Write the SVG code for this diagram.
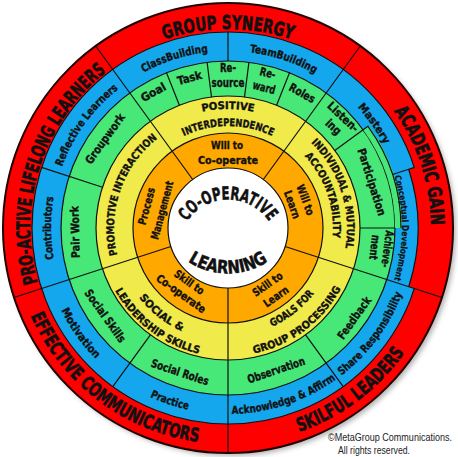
<svg xmlns="http://www.w3.org/2000/svg" xmlns:xlink="http://www.w3.org/1999/xlink" width="458" height="457" viewBox="0 0 458 457">
<style>
text{font-family:'DejaVu Sans Condensed','DejaVu Sans','Liberation Sans',sans-serif;font-weight:bold;fill:#111;stroke:#111;stroke-width:0.35;font-stretch:condensed}
.r{font-size:19px;stroke-width:0.6}
.b{font-size:11px}
.bs{font-size:9px;stroke-width:0.2}
.g{font-size:11.5px}
.y{font-size:10.5px}
.o{font-size:11px}
.c{font-size:18px;stroke-width:0.5}
.m{dominant-baseline:central;text-anchor:middle}
.cp{font-family:'Liberation Sans',Arial,sans-serif;font-weight:normal;font-size:10.5px;fill:#222;stroke:none}
.ln{stroke:#111;stroke-width:1.2;fill:none}
.ring{stroke:#111;stroke-width:1.2}
</style>
<defs>
<filter id="sh" x="-10%" y="-10%" width="120%" height="120%"><feGaussianBlur stdDeviation="2.5"/></filter>
<path id="tp-gs" d="M128.5,55.7 A199,199 0 0 1 327.5,55.7"/>
<path id="tp-ag" d="M335.6,55.9 A203,203 0 0 1 416.2,304.0"/>
<path id="tp-sl" d="M216.7,443.7 A216,216 0 0 0 438.5,276.6"/>
<path id="tp-ec" d="M17.5,276.6 A216,216 0 0 0 239.3,443.7"/>
<path id="tp-pa" d="M44.4,302.2 A198,198 0 0 1 123.1,60.1"/>
<path id="tp-cb" d="M97.5,108.4 A177,177 0 0 1 266.3,55.2"/>
<path id="tp-tb" d="M191.8,54.7 A177,177 0 0 1 360,110"/>
<path id="tp-ma" d="M301.1,66.8 A177,177 0 0 1 404.2,210.7"/>
<path id="tp-cd" d="M378.7,141 A174,174 0 0 1 378.7,315"/>
<path id="tp-sr" d="M302.2,398.6 A186,186 0 0 0 412.8,249.1"/>
<path id="tp-aa" d="M190.3,410.1 A186,186 0 0 0 366.9,351.7"/>
<path id="tp-pr" d="M88.5,351 A186,186 0 0 0 264.8,410.3"/>
<path id="tp-mo" d="M42.9,245.8 A186,186 0 0 0 150.9,397.3"/>
<path id="tp-co" d="M74.7,316.5 A177,177 0 0 1 74.7,139.5"/>
<path id="tp-rl" d="M52,209.5 A177,177 0 0 1 156,66.3"/>
<path id="tp-pos" d="M151.5,136.8 A119,119 0 0 1 304.5,136.8"/>
<path id="tp-int" d="M162.4,149.9 A102,102 0 0 1 293.6,149.9"/>
<path id="tp-ind" d="M291.1,127.1 A119,119 0 0 1 338.3,272.6"/>
<path id="tp-acc" d="M282.1,138 A105,105 0 0 1 326,265.6"/>
<path id="tp-gf" d="M225,336 A108,108 0 0 0 333.8,249.7"/>
<path id="tp-gp" d="M220.6,355.8 A128,128 0 0 0 352.6,257.5"/>
<path id="tp-so" d="M117.5,251.5 A113,113 0 0 0 231.9,340.9"/>
<path id="tp-ls" d="M102.3,257 A129,129 0 0 0 234.8,356.8"/>
<path id="tp-pi" d="M121.6,268.9 A114,114 0 0 1 169.3,130.3"/>
<path id="tp-coop" d="M180.2,236.2 A49.5,49.5 0 0 1 275.8,236.2"/>
<path id="tp-learn" d="M182,256.8 A71.5,71.5 0 0 0 274,256.8"/>
</defs>

<g id="rings">
<circle cx="231" cy="231" r="225" fill="#777" opacity="0.55" filter="url(#sh)"/>
<circle cx="228" cy="228" r="225" fill="#FE0000" stroke="#200" stroke-width="2"/>
<circle class="ring" cx="228" cy="228" r="196" fill="#14A7EE"/>
<path d="M415.4,167.1 A197,197 0 0 1 415.4,288.9 L408.7,286.7 A190,190 0 0 0 408.7,169.3 Z" fill="#FE0000"/>
<path class="ln" d="M414.4,167.4 L408.7,169.3 A190,190 0 0 1 408.7,286.7"/>
<circle class="ring" cx="228" cy="228" r="167" fill="#48E878"/>
<path d="M368.8,125.7 A174,174 0 0 1 402,228 L395,228 A167,167 0 0 0 363.1,129.8 Z" fill="#48E878"/>
<path class="ln" d="M363.1,129.8 L368,126.3 A173,173 0 0 1 401,228"/>
<circle class="ring" cx="228" cy="228" r="132" fill="#F0EA4A"/>
<circle class="ring" cx="228" cy="228" r="95" fill="#FFA800"/>
<circle class="ring" cx="228" cy="228" r="60" fill="#FFFFFF"/>
</g>

<g id="connectors">
<path class="ln" d="M192.7,179.5 L95.7,46 M263.3,179.5 L360.3,46 M285.1,246.5 L442,297.5 M228,288 L228,453 M170.9,246.5 L14,297.5"/>
<path class="ln" d="M228,61 L228,32 M179.4,105.3 L166.5,72.7 M211.5,97 L207.1,62.3 M244.5,97 L248.9,62.3 M276.6,105.3 L289.5,72.7 M334.8,150.4 L363.1,129.8 M392.5,174.5 L408.7,169.3 M360,228 L395,228 M305.6,334.8 L343.2,386.6 M150.4,334.8 L112.8,386.6 M102.5,187.2 L41.6,167.4"/>
</g>

<g id="outer-ring-labels">
<g id="group-synergy"><text class="r"><textPath href="#tp-gs" startOffset="50%" text-anchor="middle" textLength="130" lengthAdjust="spacingAndGlyphs">GROUP SYNERGY</textPath></text></g>
<g id="academic-gain"><text class="r"><textPath href="#tp-ag" startOffset="50%" text-anchor="middle" textLength="122" lengthAdjust="spacingAndGlyphs">ACADEMIC GAIN</textPath></text></g>
<g id="skilful-leaders"><text class="r"><textPath href="#tp-sl" startOffset="50%" text-anchor="middle" textLength="134" lengthAdjust="spacingAndGlyphs">SKILFUL LEADERS</textPath></text></g>
<g id="effective-communicators"><text class="r"><textPath href="#tp-ec" startOffset="50%" text-anchor="middle" textLength="219" lengthAdjust="spacingAndGlyphs">EFFECTIVE COMMUNICATORS</textPath></text></g>
<g id="pro-active"><text class="r"><textPath href="#tp-pa" startOffset="50%" text-anchor="middle" textLength="235" lengthAdjust="spacingAndGlyphs">PRO-ACTIVE LIFELONG LEARNERS</textPath></text></g>
</g>

<g id="blue-ring-labels">
<g id="classbuilding"><text class="b"><textPath href="#tp-cb" startOffset="50%" text-anchor="middle" textLength="68" lengthAdjust="spacingAndGlyphs">ClassBuilding</textPath></text></g>
<g id="teambuilding"><text class="b"><textPath href="#tp-tb" startOffset="50%" text-anchor="middle" textLength="69" lengthAdjust="spacingAndGlyphs">TeamBuilding</textPath></text></g>
<g id="mastery"><text class="b"><textPath href="#tp-ma" startOffset="50%" text-anchor="middle" textLength="46" lengthAdjust="spacingAndGlyphs">Mastery</textPath></text></g>
<g id="conceptual-development"><text class="bs"><textPath href="#tp-cd" startOffset="50%" text-anchor="middle" textLength="105" lengthAdjust="spacingAndGlyphs">Conceptual Development</textPath></text></g>
<g id="share-responsibility"><text class="b"><textPath href="#tp-sr" startOffset="50%" text-anchor="middle" textLength="103" lengthAdjust="spacingAndGlyphs">Share Responsibility</textPath></text></g>
<g id="acknowledge-affirm"><text class="b"><textPath href="#tp-aa" startOffset="50%" text-anchor="middle" textLength="111" lengthAdjust="spacingAndGlyphs">Acknowledge &amp; Affirm</textPath></text></g>
<g id="practice"><text class="b"><textPath href="#tp-pr" startOffset="50%" text-anchor="middle" textLength="40" lengthAdjust="spacingAndGlyphs">Practice</textPath></text></g>
<g id="motivation"><text class="b"><textPath href="#tp-mo" startOffset="50%" text-anchor="middle" textLength="60" lengthAdjust="spacingAndGlyphs">Motivation</textPath></text></g>
<g id="contributors"><text class="b"><textPath href="#tp-co" startOffset="50%" text-anchor="middle" textLength="62" lengthAdjust="spacingAndGlyphs">Contributors</textPath></text></g>
<g id="reflective-learners"><text class="b"><textPath href="#tp-rl" startOffset="50%" text-anchor="middle" textLength="97" lengthAdjust="spacingAndGlyphs">Reflective Learners</textPath></text></g>
</g>

<g id="green-ring-labels">
<g id="goal"><text class="g m" transform="translate(153.3,92.2) rotate(-28.8)" textLength="27" lengthAdjust="spacingAndGlyphs">Goal</text></g>
<g id="task"><text class="g m" transform="translate(189.5,77.9) rotate(-14.4)" textLength="25" lengthAdjust="spacingAndGlyphs">Task</text></g>
<g id="resource"><text class="g m" transform="translate(228,68)" textLength="16" lengthAdjust="spacingAndGlyphs">Re-</text><text class="g m" transform="translate(228,83)" textLength="33" lengthAdjust="spacingAndGlyphs">source</text></g>
<g id="reward"><text class="g m" transform="translate(267.8,73) rotate(14.4)" textLength="16" lengthAdjust="spacingAndGlyphs">Re-</text><text class="g m" transform="translate(264.1,87.6) rotate(14.4)" textLength="23" lengthAdjust="spacingAndGlyphs">ward</text></g>
<g id="roles"><text class="g m" transform="translate(302.2,93.1) rotate(28.8)" textLength="28" lengthAdjust="spacingAndGlyphs">Roles</text></g>
<g id="listening"><text class="g m" transform="translate(343.1,116.9) rotate(43)" textLength="38" lengthAdjust="spacingAndGlyphs">Listen-</text><text class="g m" transform="translate(333.5,127) rotate(43)" textLength="17" lengthAdjust="spacingAndGlyphs">ing</text></g>
<g id="participation"><text class="g m" transform="translate(371.8,182.1) rotate(72.3)" textLength="70" lengthAdjust="spacingAndGlyphs">Participation</text></g>
<g id="achievement"><text class="g m" transform="translate(387.6,249) rotate(97.5)" textLength="37" lengthAdjust="spacingAndGlyphs">Achieve-</text><text class="g m" transform="translate(374.7,247.3) rotate(97.5)" textLength="25" lengthAdjust="spacingAndGlyphs">ment</text></g>
<g id="feedback"><text class="g m" transform="translate(354.2,318) rotate(-54.5)" textLength="49" lengthAdjust="spacingAndGlyphs">Feedback</text></g>
<g id="observation"><text class="g m" transform="translate(276.1,370.1) rotate(-18.7)" textLength="60" lengthAdjust="spacingAndGlyphs">Observation</text></g>
<g id="social-roles"><text class="g m" transform="translate(180,372.2) rotate(18.4)" textLength="60" lengthAdjust="spacingAndGlyphs">Social Roles</text></g>
<g id="social-skills"><text class="g m" transform="translate(105.2,315.9) rotate(54.4)" textLength="62" lengthAdjust="spacingAndGlyphs">Social Skills</text></g>
<g id="pair-work"><text class="g m" transform="translate(75.1,232) rotate(-91.5)" textLength="52" lengthAdjust="spacingAndGlyphs">Pair Work</text></g>
<g id="groupwork"><text class="g m" transform="translate(105,138.7) rotate(-54)" textLength="59" lengthAdjust="spacingAndGlyphs">Groupwork</text></g>
</g>

<g id="yellow-ring-labels">
<g id="positive-interdependence"><text class="y"><textPath href="#tp-pos" startOffset="50%" text-anchor="middle" textLength="52" lengthAdjust="spacingAndGlyphs">POSITIVE</textPath></text><text class="y"><textPath href="#tp-int" startOffset="50%" text-anchor="middle" textLength="91" lengthAdjust="spacingAndGlyphs">INTERDEPENDENCE</textPath></text></g>
<g id="individual-accountability"><text class="y"><textPath href="#tp-ind" startOffset="50%" text-anchor="middle" textLength="115" lengthAdjust="spacingAndGlyphs">INDIVIDUAL &amp; MUTUAL</textPath></text><text class="y"><textPath href="#tp-acc" startOffset="50%" text-anchor="middle" textLength="89" lengthAdjust="spacingAndGlyphs">ACCOUNTABILITY</textPath></text></g>
<g id="goals-group-processing"><text class="y"><textPath href="#tp-gf" startOffset="50%" text-anchor="middle" textLength="54" lengthAdjust="spacingAndGlyphs">GOALS FOR</textPath></text><text class="y"><textPath href="#tp-gp" startOffset="50%" text-anchor="middle" textLength="112" lengthAdjust="spacingAndGlyphs">GROUP PROCESSING</textPath></text></g>
<g id="social-leadership"><text class="y"><textPath href="#tp-so" startOffset="50%" text-anchor="middle" textLength="55" lengthAdjust="spacingAndGlyphs">SOCIAL &amp;</textPath></text><text class="y"><textPath href="#tp-ls" startOffset="50%" text-anchor="middle" textLength="108" lengthAdjust="spacingAndGlyphs">LEADERSHIP SKILLS</textPath></text></g>
<g id="promotive-interaction"><text class="y"><textPath href="#tp-pi" startOffset="50%" text-anchor="middle" textLength="130" lengthAdjust="spacingAndGlyphs">PROMOTIVE INTERACTION</textPath></text></g>
</g>

<g id="orange-ring-labels">
<g id="will-cooperate"><text class="o m" transform="translate(227,145)" textLength="32" lengthAdjust="spacingAndGlyphs">Will to</text><text class="o m" transform="translate(228,160)" textLength="60" lengthAdjust="spacingAndGlyphs">Co-operate</text></g>
<g id="will-learn"><text class="o m" transform="translate(305.1,200) rotate(70)" textLength="32" lengthAdjust="spacingAndGlyphs">Will to</text><text class="o m" transform="translate(291.9,204.7) rotate(70)" textLength="29" lengthAdjust="spacingAndGlyphs">Learn</text></g>
<g id="skill-learn"><text class="o m" transform="translate(267.6,284.5) rotate(-35)" textLength="34" lengthAdjust="spacingAndGlyphs">Skill to</text><text class="o m" transform="translate(276.2,296.8) rotate(-35)" textLength="28" lengthAdjust="spacingAndGlyphs">Learn</text></g>
<g id="skill-cooperate"><text class="o m" transform="translate(189.1,282.5) rotate(35.5)" textLength="34" lengthAdjust="spacingAndGlyphs">Skill to</text><text class="o m" transform="translate(180.9,293.9) rotate(35.5)" textLength="58" lengthAdjust="spacingAndGlyphs">Co-operate</text></g>
<g id="process-management"><text class="o m" transform="translate(146.9,206.3) rotate(-75)" textLength="38" lengthAdjust="spacingAndGlyphs">Process</text><text class="o m" transform="translate(162.3,210.4) rotate(-75)" textLength="60" lengthAdjust="spacingAndGlyphs">Management</text></g>
</g>

<g id="center">
<text class="c"><textPath href="#tp-coop" startOffset="50%" text-anchor="middle" textLength="97" lengthAdjust="spacingAndGlyphs">CO-OPERATIVE</textPath></text>
<text class="c"><textPath href="#tp-learn" startOffset="50%" text-anchor="middle" textLength="85" lengthAdjust="spacingAndGlyphs">LEARNING</textPath></text>
</g>

<g id="copyright">
<text class="cp" x="328" y="441" textLength="124" lengthAdjust="spacingAndGlyphs">©MetaGroup Communications.</text>
<text class="cp" x="338" y="454" textLength="72" lengthAdjust="spacingAndGlyphs">All rights reserved.</text>
</g>
</svg>
